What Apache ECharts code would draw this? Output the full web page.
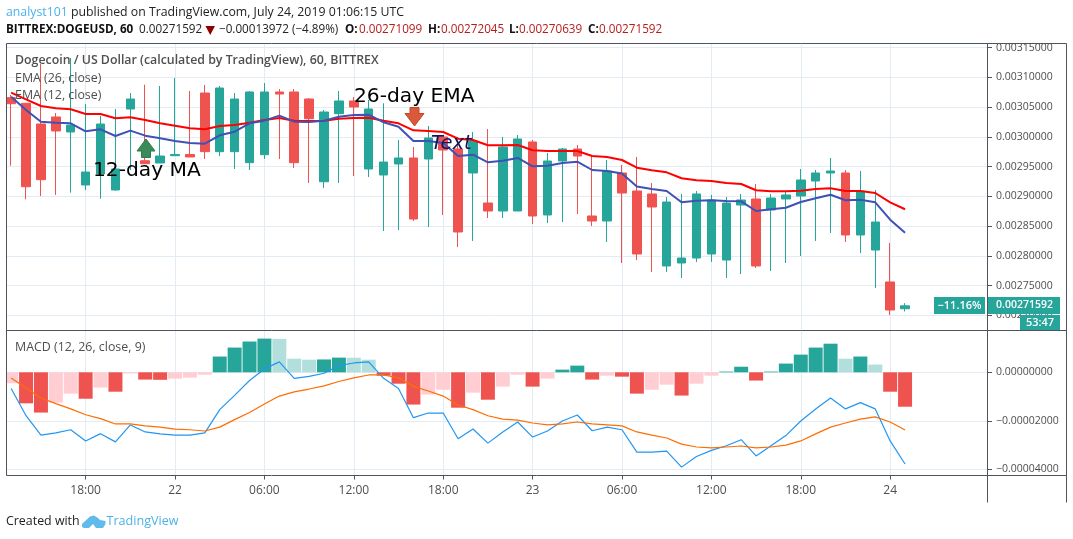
<!DOCTYPE html>
<html>
<head>
<meta charset="utf-8">
<style>html,body{margin:0;padding:0;background:#fff}#c{width:1073px;height:539px}</style>
<script src="https://cdn.jsdelivr.net/npm/echarts@6/dist/echarts.min.js"></script>
</head>
<body>
<div id="c"></div>
<script>
// [open, close, low, high]
const candles = [
[0.0030657,0.0030556,0.0029514,0.0030703],[0.0030563,0.0029161,0.0028950,0.0030568],[0.0030215,0.0029279,0.0029005,0.0031224],
[0.0030333,0.0030098,0.0029022,0.0030400],[0.0030081,0.0030198,0.0029061,0.0031324],[0.0029190,0.0029408,0.0029106,0.0030551],
[0.0029375,0.0030215,0.0028960,0.0030350],[0.0029106,0.0029459,0.0029094,0.0030467],[0.0030467,0.0030635,0.0029442,0.0030736],
[0.0029598,0.0029548,0.0029543,0.0030876],[0.0029560,0.0029677,0.0029560,0.0030854],[0.0029682,0.0029703,0.0029682,0.0030988],
[0.0029703,0.0029661,0.0029661,0.0030770],[0.0030736,0.0029750,0.0029627,0.0030871],[0.0029750,0.0030820,0.0029677,0.0030854],
[0.0029750,0.0030635,0.0029459,0.0030736],[0.0029565,0.0030753,0.0029442,0.0030770],[0.0029699,0.0030753,0.0029627,0.0030904],
[0.0030753,0.0030719,0.0029627,0.0030803],[0.0030753,0.0029565,0.0029476,0.0030803],[0.0030635,0.0030304,0.0029224,0.0030652],
[0.0029245,0.0030417,0.0029140,0.0030450],[0.0030388,0.0030602,0.0029224,0.0030770],[0.0030602,0.0030501,0.0029341,0.0030669],
[0.0029459,0.0030467,0.0029324,0.0030619],[0.0029358,0.0029576,0.0028417,0.0030563],[0.0029543,0.0029644,0.0028434,0.0029946],
[0.0029644,0.0028618,0.0028585,0.0029829],[0.0029627,0.0029980,0.0028484,0.0030182],[0.0029997,0.0029778,0.0028686,0.0029997],
[0.0029795,0.0028400,0.0028148,0.0029997],[0.0029392,0.0029929,0.0028249,0.0030081],[0.0028887,0.0028753,0.0028635,0.0030131],
[0.0028753,0.0029829,0.0028635,0.0029997],[0.0028753,0.0029963,0.0028753,0.0030030],[0.0029913,0.0028669,0.0028534,0.0029946],
[0.0028686,0.0029593,0.0028551,0.0029728],[0.0029593,0.0029795,0.0028568,0.0029812],[0.0029795,0.0029677,0.0028703,0.0029862],
[0.0028669,0.0028585,0.0028501,0.0029677],[0.0028585,0.0029425,0.0028232,0.0029610],[0.0029392,0.0029055,0.0027879,0.0029526],
[0.0029089,0.0028030,0.0027929,0.0029661],[0.0029039,0.0028820,0.0027728,0.0029224],[0.0027829,0.0028904,0.0027728,0.0028988],
[0.0027879,0.0027963,0.0027627,0.0029039],[0.0027963,0.0029039,0.0027896,0.0029089],[0.0028030,0.0028938,0.0027896,0.0029022],
[0.0027929,0.0028887,0.0027627,0.0028988],[0.0028854,0.0028938,0.0027694,0.0029039],[0.0028955,0.0027829,0.0027795,0.0029207],
[0.0028770,0.0028971,0.0027745,0.0029039],[0.0028955,0.0029022,0.0027879,0.0029089],[0.0029005,0.0029274,0.0027997,0.0029459],
[0.0029257,0.0029392,0.0028249,0.0029442],[0.0029392,0.0029425,0.0028383,0.0029644],[0.0029392,0.0028350,0.0028232,0.0029442],
[0.0028350,0.0029089,0.0028047,0.0029425],[0.0028097,0.0028568,0.0027459,0.0029106],[0.0027560,0.0027089,0.0027005,0.0028215],
[0.00271099,0.00271592,0.00270639,0.00272045]];
const ema26 = [0.0030741,0.0030630,0.0030518,0.0030479,0.0030462,0.0030383,0.0030383,0.0030311,0.0030328,0.0030282,0.0030227,0.0030187,0.0030143,0.0030126,0.0030182,0.0030198,0.0030237,0.0030282,0.0030316,0.0030271,0.0030266,0.0030271,0.0030304,0.0030316,0.0030321,0.0030271,0.0030227,0.0030109,0.0030098,0.0030081,0.0029968,0.0029946,0.0029857,0.0029857,0.0029862,0.0029773,0.0029761,0.0029761,0.0029761,0.0029677,0.0029661,0.0029610,0.0029481,0.0029437,0.0029403,0.0029303,0.0029269,0.0029257,0.0029224,0.0029207,0.0029101,0.0029084,0.0029084,0.0029094,0.0029123,0.0029134,0.0029089,0.0029089,0.0029055,0.0028899,0.0028782];
const ema12 = [0.0030674,0.0030450,0.0030254,0.0030237,0.0030227,0.0030092,0.0030126,0.0030013,0.0030103,0.0030019,0.0029975,0.0029929,0.0029896,0.0029884,0.0030025,0.0030086,0.0030227,0.0030271,0.0030355,0.0030254,0.0030249,0.0030271,0.0030338,0.0030366,0.0030372,0.0030244,0.0030170,0.0029929,0.0029929,0.0029896,0.0029677,0.0029699,0.0029571,0.0029598,0.0029644,0.0029504,0.0029514,0.0029560,0.0029582,0.0029442,0.0029425,0.0029383,0.0029165,0.0029123,0.0029089,0.0028899,0.0028926,0.0028933,0.0028921,0.0028916,0.0028753,0.0028782,0.0028808,0.0028904,0.0028966,0.0029027,0.0028933,0.0028943,0.0028899,0.0028607,0.0028388];
const macdHist = [-4.5,-12.8,-16.6,-12.5,-8.8,-10.9,-6.3,-8.0,-0.5,-3.0,-3.1,-2.6,-2.2,-1.0,6.5,10.2,12.7,13.9,13.8,5.6,5.2,5.3,6.05,6.0,5.2,-1.4,-4.7,-13.3,-9.2,-7.2,-14.6,-8.4,-11.3,-5.9,-1.0,-5.9,-2.6,1.1,2.75,-3.0,-1.4,-1.8,-8.8,-7.2,-5.1,-9.6,-4.7,-1.4,0.3,2.3,-3.4,0.3,3.6,7.3,10.2,11.8,5.6,6.5,3.2,-8.0,-14.2];
const macdLine = [-6.7,-17.9,-25.9,-25.0,-23.7,-28.3,-25.3,-28.7,-21.7,-24.6,-25.4,-25.9,-25.9,-25.0,-15.4,-9.5,-3.4,1.4,4.3,-2.5,-1.65,-0.4,2.75,3.85,4.3,-2.5,-6.7,-18.7,-16.8,-16.8,-27.4,-23.4,-29.2,-24.6,-20.5,-26.7,-24.2,-20.1,-17.6,-24.1,-22.6,-23.7,-32.9,-32.9,-32.5,-39.1,-34.7,-32.2,-30.3,-27.8,-34.5,-30.3,-26.1,-20.1,-15.1,-10.6,-15.1,-12.5,-15.1,-28.3,-37.8];
const signalLine = [-2.3,-6.5,-10.6,-12.9,-15.1,-17.5,-19.1,-21.3,-21.3,-22.1,-22.6,-23.4,-23.7,-24.2,-22.6,-19.5,-16.6,-13.1,-9.8,-8.1,-6.9,-5.6,-3.8,-2.3,-1.1,-1.1,-2.3,-5.8,-7.7,-9.8,-13.5,-15.4,-17.9,-19.3,-19.7,-20.9,-21.7,-21.3,-20.5,-21.3,-21.7,-22.1,-24.6,-25.9,-27.1,-29.6,-30.8,-31.2,-30.8,-30.4,-31.2,-30.8,-30.0,-28.3,-25.4,-22.6,-20.9,-19.3,-18.4,-20.5,-23.8];
const MACD_UNIT = 1e-6;
const slotCount = 66;
const tickIndex = [5,11,17,23,29,35,41,47,53,59];
const tickLabels = ['18:00','22','06:00','12:00','18:00','23','06:00','12:00','18:00','24'];
const lastClose = 0.00271592;

const GREEN='#26a69a', RED='#ef5350', PALE_RED='#ffcdd2', PALE_GREEN='#b2dfdb';
const GRID='#e3ecf2', AXIS='#50535e', TXT='#4f4f4f';
const FONT='"Open Sans", sans-serif';
const slots = Array.from({length:slotCount},(_,i)=>String(i));
const isTick = i => tickIndex.indexOf(i) >= 0;
const histItems = macdHist.map((v,i)=>{
  const p = i ? macdHist[i-1] : v-1;
  let c;
  if (v>=0) c = v>=p ? GREEN : PALE_GREEN; else c = v<p ? RED : PALE_RED;
  return {value:v*MACD_UNIT, itemStyle:{color:c}};
});
const micro = a => a.map(v=>v*MACD_UNIT);
const fmt = v => v.toFixed(8).replace('-','\u2212');

const L=3.7, W=983.3;
const hiddenX = grid => ({type:'category',gridIndex:grid,data:slots,boundaryGap:true,
  axisLine:{show:false},axisTick:{show:false},axisLabel:{show:false},splitLine:{show:false}});
const yBase = (grid,extra)=>Object.assign({
  type:'value', gridIndex:grid, position:'right', scale:true,
  axisLine:{show:true,lineStyle:{color:AXIS}},
  axisTick:{show:true,length:5,lineStyle:{color:AXIS}},
  axisLabel:{color:TXT,fontFamily:FONT,fontSize:10.5,margin:9,padding:[2,0,0,0],formatter:fmt,showMaxLabel:false},
  splitLine:{show:true,lineStyle:{color:GRID,width:1}},
},extra);

const seg=(x1,y1,x2,y2)=>({type:'line',z:101,silent:true,shape:{x1,y1,x2,y2},style:{stroke:AXIS,lineWidth:1}});
const txt=(x,y,text,o)=>({type:'text',z:102,silent:true,x,y,style:Object.assign({text,fill:TXT,font:'12.4px '+FONT,verticalAlign:'middle'},o||{})});
const box=(x,y,w,h,fill)=>({type:'rect',z:102,silent:true,shape:{x,y,width:w,height:h},style:{fill}});
const HB='bold 11.7px '+FONT, HN='11.7px '+FONT, DK='#222222', VAL='#b71c1c';

const chart = echarts.init(document.getElementById('c'),null,{renderer:'canvas'});
chart.setOption({
  animation:false,
  backgroundColor:'#ffffff',
  grid:[
    {left:L,top:43.5,width:W,height:271.8},
    {left:L,top:330.5,width:W,height:138.8},
    {left:L,top:43.5,width:W,height:432}
  ],
  xAxis:[
    hiddenX(0), hiddenX(1),
    {type:'category',gridIndex:2,data:slots,boundaryGap:true,
      axisLine:{show:false},
      axisTick:{show:true,length:4,alignWithLabel:true,interval:i=>isTick(i),lineStyle:{color:AXIS}},
      splitLine:{show:true,interval:i=>isTick(i),alignWithLabel:true,lineStyle:{color:GRID,width:1}},
      axisLabel:{show:true,interval:i=>isTick(i),color:TXT,fontFamily:FONT,fontSize:12,margin:9,
        formatter:(v)=>{const k=tickIndex.indexOf(+v);return k>=0?tickLabels[k]:'';}}}
  ],
  yAxis:[
    yBase(0,{min:0.0027,max:0.0031568,interval:0.00005}),
    yBase(1,{min:-0.00004,max:0.00001724,interval:0.00002}),
    {type:'value',gridIndex:2,show:false,min:0,max:1,splitLine:{show:false}}
  ],
  series:[
    {type:'candlestick',name:'DOGEUSD',xAxisIndex:0,yAxisIndex:0,data:candles,barWidth:9,
     itemStyle:{color:GREEN,color0:RED,borderColor:GREEN,borderColor0:RED,borderWidth:1},
     markLine:{silent:true,symbol:'none',animation:false,label:{show:false},
       lineStyle:{color:GREEN,type:[2,2],width:1},data:[{yAxis:lastClose}]}},
    {type:'line',name:'EMA 26',xAxisIndex:0,yAxisIndex:0,data:ema26,showSymbol:false,lineStyle:{color:'#ff0000',width:2}},
    {type:'line',name:'EMA 12',xAxisIndex:0,yAxisIndex:0,data:ema12,showSymbol:false,lineStyle:{color:'#3f51b5',width:2}},
    {type:'bar',name:'Histogram',xAxisIndex:1,yAxisIndex:1,data:histItems,barWidth:14},
    {type:'line',name:'MACD',xAxisIndex:1,yAxisIndex:1,data:micro(macdLine),showSymbol:false,lineStyle:{color:'#2196f3',width:1.2}},
    {type:'line',name:'Signal',xAxisIndex:1,yAxisIndex:1,data:micro(signalLine),showSymbol:false,lineStyle:{color:'#ff6d00',width:1.2}}
  ],
  graphic:{elements:[
    {type:'rect',z:100,silent:true,shape:{x:0,y:40,width:6,height:440},style:{fill:'#fff'}},
    seg(6.5,43.5,1066.5,43.5), seg(6.5,330.5,1066.5,330.5), seg(6.5,475.5,1066.5,475.5),
    seg(6.5,43.5,6.5,475.5), seg(987.5,43.5,987.5,502.5), seg(1066.5,43.5,1066.5,502.5),
    // header
    txt(6,12,'{a|analyst101} published on TradingView.com, July 24, 2019 01:06:15 UTC',{fill:DK,font:'12.3px '+FONT,
      rich:{a:{fill:'#4db2e6',font:'12.3px '+FONT}}}),
    txt(6,30,'BITTREX:DOGEUSD, 60',{fill:'#111',font:HB}),
    txt(139,30,'0.00271592',{fill:DK,font:HN}),
    {type:'polygon',z:102,silent:true,shape:{points:[[205.5,26],[215,26],[210.2,35]]},style:{fill:'#8b0000'}},
    txt(219,30,'\u22120.00013972 (\u22124.89%)',{fill:DK,font:HN}),
    txt(345,30,'O:',{fill:'#111',font:HB}), txt(359,30,'0.00271099',{fill:VAL,font:HN}),
    txt(428,30,'H:',{fill:'#111',font:HB}), txt(441,30,'0.00272045',{fill:VAL,font:HN}),
    txt(509,30,'L:',{fill:'#111',font:HB}), txt(519,30,'0.00270639',{fill:VAL,font:HN}),
    txt(588,30,'C:',{fill:'#111',font:HB}), txt(599,30,'0.00271592',{fill:VAL,font:HN}),
    // legends
    txt(15,60,'Dogecoin / US Dollar (calculated by TradingView), 60, BITTREX',{font:'600 12.35px '+FONT}),
    txt(15,78,'EMA (26, close)'), txt(15,95,'EMA (12, close)'), txt(15,347,'MACD (12, 26, close, 9)'),
    // price tags
    box(934,297,51,17,GREEN), box(988,297,72,17,GREEN), box(1020,315,40,15,GREEN),
    txt(959.5,305.5,'\u221211.16%',{fill:'#fff',font:'600 11px '+FONT,align:'center'}),
    txt(996,305.5,'0.00271592',{fill:'#fff',font:'600 10.5px '+FONT}),
    txt(1040,323,'53:47',{fill:'#fff',font:'600 11px '+FONT,align:'center'}),
    // annotations
    {type:'polygon',z:103,silent:true,shape:{points:[[146,139],[155,151],[150.5,151],[150.5,157.5],[141.5,157.5],[141.5,151],[137,151]]},style:{fill:'#3b8a5a',stroke:'#2f7a4c',lineWidth:1}},
    {type:'polygon',z:103,silent:true,shape:{points:[[410,107.5],[419,107.5],[419,113.5],[424,113.5],[414.5,126],[405,113.5],[410,113.5]]},style:{fill:'#d9593a',stroke:'#c0492d',lineWidth:1}},
    txt(93,171,'12-day MA',{fill:'#000',font:'20.2px "DejaVu Sans"'}),
    txt(354,97,'26-day EMA',{fill:'#000',font:'20.2px "DejaVu Sans"'}),
    txt(431,143.5,'Text',{fill:'#14145a',font:'italic 19.5px "DejaVu Sans"'}),
    // footer
    txt(6,521,'Created with',{fill:DK,font:'12.4px '+FONT}),
    {type:'polygon',z:103,silent:true,shape:{points:[[82,527],[82,524],[90,516.5],[94,515.5],[98,518],[100,520],[105.5,521],[105.5,524],[103,528],[96,528],[93,524],[89,528],[84,528]]},style:{fill:'#5fbbe9'}},
    txt(106.5,521,'TradingView',{fill:'#4db2e6',font:'12.6px '+FONT})
  ]}
});
</script>
</body>
</html>
